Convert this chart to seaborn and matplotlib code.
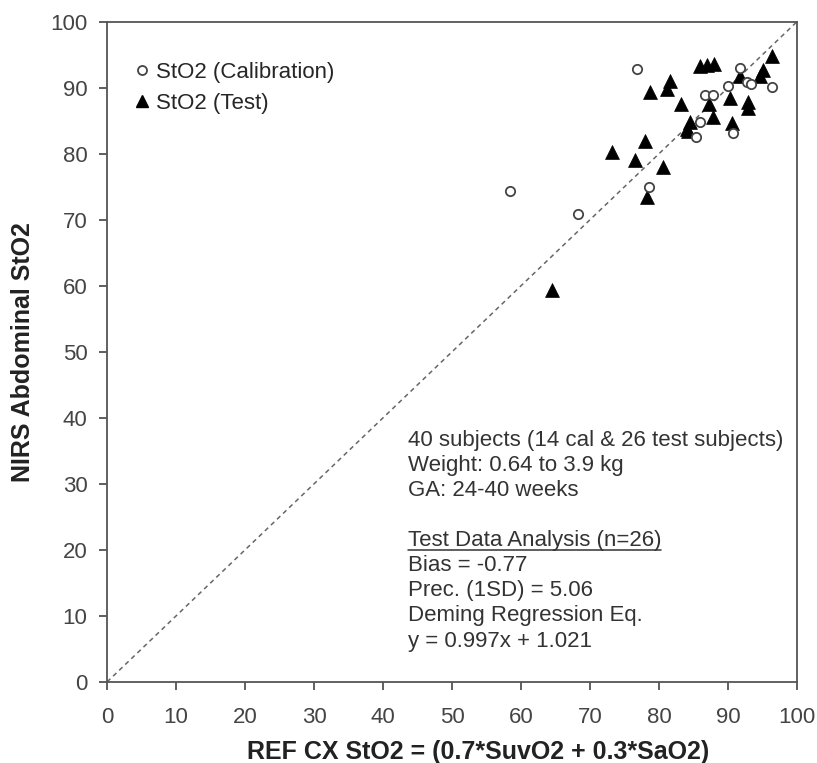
import matplotlib
matplotlib.use("Agg")
import matplotlib.pyplot as plt
import seaborn as sns
import pandas as pd
from matplotlib.lines import Line2D

# Kalibrierungsdaten (offene Kreise)
cal_ref = [58.4, 68.3, 76.8, 78.5, 86.7, 87.8, 90.0, 91.8, 92.8, 93.3, 96.4, 85.9, 85.4, 90.7]
cal_nirs = [74.4, 70.8, 92.9, 74.9, 88.9, 88.9, 90.3, 93.0, 90.8, 90.6, 90.1, 84.8, 82.6, 83.1]

# Testdaten (gefuellte Dreiecke)
test_ref = [64.5, 73.2, 76.5, 78.0, 80.6, 78.3, 84.2, 78.7, 81.6, 81.2, 83.2, 87.3, 87.8,
            84.5, 86.0, 87.0, 88.0, 96.4, 95.1, 94.6, 91.7, 90.3, 92.9, 92.9, 90.6, 84.0]
test_nirs = [59.3, 80.3, 79.1, 81.9, 78.0, 73.5, 83.4, 89.3, 91.0, 89.8, 87.6, 87.6, 85.6,
             84.8, 93.3, 93.5, 93.6, 94.8, 92.7, 91.8, 91.7, 88.5, 87.9, 87.0, 84.6, 83.8]

ticks = [0, 10, 20, 30, 40, 50, 60, 70, 80, 90, 100]

df_cal = pd.DataFrame({"ref": cal_ref, "nirs": cal_nirs})
df_test = pd.DataFrame({"ref": test_ref, "nirs": test_nirs})

sns.set_style("white")
plt.rcParams["font.family"] = ["Liberation Sans", "DejaVu Sans"]

fig = plt.figure(figsize=(8.17, 7.63), dpi=100)
ax = fig.add_axes([0.131, 0.1062, 0.8445, 0.8654])

# Identitaetslinie
ax.plot([0, 100], [0, 100], linestyle=(0, (3, 2.5)), color="#666666", linewidth=1.1, zorder=1)

sns.scatterplot(data=df_cal, x="ref", y="nirs", marker="o", s=45,
                facecolor="white", edgecolor="#444444", linewidth=1.3, ax=ax, zorder=3)
sns.scatterplot(data=df_test, x="ref", y="nirs", marker="^", s=100,
                color="black", edgecolor="black", linewidth=0.5, ax=ax, zorder=2)

ax.set_xlim(0, 100)
ax.set_ylim(0, 100)
ax.set_xticks(ticks)
ax.set_yticks(ticks)
ax.tick_params(axis="both", direction="out", length=6, width=1.2, colors="#444444",
               labelsize=16, labelcolor="#444444", bottom=True, left=True)
ax.tick_params(axis="y", pad=8)
ax.tick_params(axis="x", pad=12)
for sp in ax.spines.values():
    sp.set_color("#555555")
    sp.set_linewidth(1.3)

ax.set_xlabel("")
ax.set_ylabel("")
fig.text(478 / 817, 1 - 752 / 763, "REF CX StO2 = (0.7*SuvO2 + 0.3*SaO2)", fontsize=18,
         fontweight="bold", color="#222222", ha="center", va="center")
fig.text(23 / 817, 1 - 352 / 763, "NIRS Abdominal StO2", fontsize=18, fontweight="bold",
         color="#222222", ha="center", va="center", rotation=90)

# Legende
handles = [
    Line2D([], [], marker="o", linestyle="", markerfacecolor="white", markeredgecolor="#444444",
           markersize=6.5, markeredgewidth=1.3),
    Line2D([], [], marker="^", linestyle="", color="black", markersize=8),
]
ax.legend(handles, ["StO2 (Calibration)", "StO2 (Test)"], loc="upper left",
          bbox_to_anchor=(0.028, 0.952), frameon=False, fontsize=16,
          handlelength=0.6, handletextpad=0.35, labelspacing=0.45, borderaxespad=0)

# Textblock
lines_top = ["40 subjects (14 cal & 26 test subjects)", "Weight: 0.64 to 3.9 kg", "GA: 24-40 weeks"]
lines_bot = ["Bias = -0.77", "Prec. (1SD) = 5.06", "Deming Regression Eq.", "y = 0.997x + 1.021"]
x0 = 43.6
step = 3.8
y = 36.6
for s in lines_top:
    ax.text(x0, y, s, fontsize=16, color="#333333", va="center")
    y -= step
y -= step
hdr = ax.text(x0, y, "Test Data Analysis (n=26)", fontsize=16, color="#333333", va="center")
y -= step
for s in lines_bot:
    ax.text(x0, y, s, fontsize=16, color="#333333", va="center")
    y -= step

# Unterstreichung der Ueberschrift
fig.canvas.draw()
bb = hdr.get_window_extent().transformed(ax.transData.inverted())
ax.plot([bb.x0, bb.x1], [bb.y0 + 0.2, bb.y0 + 0.2], color="#333333", linewidth=1.1)

fig.savefig("out.png", dpi=100)
